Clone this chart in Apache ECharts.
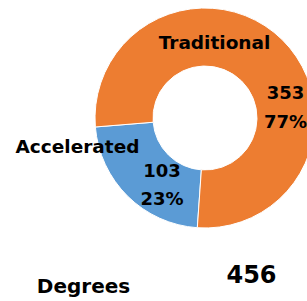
<!DOCTYPE html>
<html>
<head>
<meta charset="utf-8">
<script src="https://cdn.jsdelivr.net/npm/echarts@6/dist/echarts.min.js"></script>
<style>
    html, body { margin: 0; padding: 0; background: #fff; }
    #container { width: 307px; height: 301px; }
</style>
</head>
<body>
<div id="container"></div>
<script>
// 数据
var categories = ["Accelerated", "Traditional"];
var values = [103, 353];
var colors = ["#5B9BD5", "#ED7D31"];
var totalLabel = "Degrees";

var FONT = "DejaVu Sans";

function pct(v, total) {
    return Math.round(v / total * 100) + "%";
}

// 文本元素，居中放置
function textEl(txt, x, y, size, lineHeight) {
    return {
        type: "text",
        x: x,
        y: y,
        style: {
            text: txt,
            fontFamily: FONT,
            fontWeight: "bold",
            fontSize: size,
            lineHeight: lineHeight || size * 1.2,
            fill: "#000",
            align: "center",
            verticalAlign: "middle"
        },
        z: 10
    };
}

(function() {
    var total = values.reduce(function(a, b) { return a + b; }, 0);
    var dom = document.getElementById("container");
    var myChart = echarts.init(dom, null, { renderer: "svg" });

    var option = {
        animation: false,
        series: [{
            type: "pie",
            center: [205, 118],
            radius: [52, 110],
            startAngle: 266,
            clockwise: true,
            label: { show: false },
            labelLine: { show: false },
            itemStyle: { borderColor: "#fff", borderWidth: 1 },
            data: categories.map(function(name, i) {
                return { name: name, value: values[i], itemStyle: { color: colors[i] } };
            })
        }],
        graphic: [
            textEl(categories[1], 214.5, 42, 18.5),
            textEl(categories[0], 77.5, 146, 18.5),
            textEl(values[1] + "\n" + pct(values[1], total), 285.5, 106.5, 18, 29),
            textEl(values[0] + "\n" + pct(values[0], total), 162, 184, 18, 28),
            textEl(totalLabel, 83.5, 286, 20),
            textEl(String(total), 251.5, 275, 24)
        ]
    };
    myChart.setOption(option, true);
})();
</script>
</body>
</html>
